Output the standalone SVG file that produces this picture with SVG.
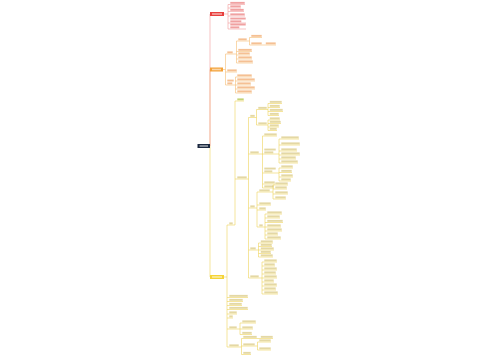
<svg xmlns="http://www.w3.org/2000/svg" width="500" height="360" viewBox="0 0 500 360">
<style>
path{fill:none;stroke-width:.6}
.cr,.r path{stroke:#f29b9b}
.co,.o path{stroke:#f5bd73}
.cy,.y path{stroke:#eed45a}
.r rect{fill:#e35454;opacity:.55}
.o rect{fill:#ec8c3a;opacity:.55}
.y rect{fill:#c9b24a;opacity:.5}
.g rect{fill:#a9bf3a;opacity:.7}
.bw{fill:#fff;opacity:.55}
</style>
<rect width="500" height="360" fill="#fff"/>
<g id="connectors">
<path class="cy" d="M210 146V277"/>
<path class="co" d="M210 146V69.5"/>
<path class="cr" d="M210 146V14"/>
<path class="cr" d="M224 14H228M228 4.5V29"/>
<path class="co" d="M223 69.5H225.5M225.5 54V85M233 54H236.5M236.5 41V63M247 41H249.5M249.5 37.5V45M262 45H264M234 85H235.5M235.5 77V93"/>
<path class="cy" d="M224 277H227M227 225V347M233 225H235M235 101V225M247 179H248.5M248.5 117.5V278M255 117.5H256.5M256.5 109.5V125M267 109.5H268M268 103.5V115.5M267 125H268M268 120V130.5M259 154H262.5M262.5 136V188M276 154H279M279 139V163M276 173H279M279 168V181M255 208H257M257 192V227M270 192H273M273 185V199M263 227H265M265 214V239M256 250H258.5M258.5 243V257M259 278H262M262 262V294M237 329H240M240 323V334.5M239 347H241.5M241.5 338.5V354.5M257 338.5H259M255 346H257.5M257.5 342V350"/>
</g>
<g id="root"><rect x="197.5" y="144" width="12.5" height="4" fill="#1c2940"/><rect class="bw" x="199.5" y="145.2" width="8.5" height="1.6"/></g>
<g id="b-red"><rect x="210" y="12" width="14" height="4" fill="#e8403e"/><rect class="bw" x="212" y="13.2" width="10" height="1.6"/></g>
<g id="b-orange"><rect x="210" y="67.5" width="13" height="4" fill="#f3a23a"/><rect class="bw" x="212" y="68.7" width="9" height="1.6"/></g>
<g id="b-yellow"><rect x="210" y="275" width="14" height="4" fill="#f5d436"/><rect class="bw" x="212" y="276.2" width="10" height="1.6"/></g>
<g id="r1" class="r"><rect x="230.3" y="1.9" width="14.4" height="1.9"/><path d="M228 4.5H245"/></g>
<g id="r2" class="r"><rect x="230.3" y="5.4" width="10.4" height="1.9"/><path d="M228 8H241"/></g>
<g id="r3" class="r"><rect x="230.3" y="8.9" width="13.4" height="1.9"/><path d="M228 11.5H244"/></g>
<g id="r4" class="r"><rect x="230.3" y="13.4" width="14.4" height="1.9"/><path d="M228 16H245"/></g>
<g id="r5" class="r"><rect x="230.3" y="17.6" width="15.4" height="1.9"/><rect x="230.3" y="20.4" width="11" height="1.9"/><path d="M228 23H246"/></g>
<g id="r6" class="r"><rect x="230.3" y="23.6" width="15.4" height="1.9"/><rect x="230.3" y="26.4" width="9" height="1.9"/><path d="M228 29H246"/></g>
<g id="o1" class="o"><rect x="227.3" y="51.4" width="5.4" height="1.9"/><path d="M225.5 54H233"/></g>
<g id="o2" class="o"><rect x="227.3" y="69.4" width="9.4" height="1.9"/><path d="M225.5 72H237"/></g>
<g id="o3" class="o"><rect x="227.3" y="79.6" width="6.4" height="1.9"/><rect x="227.3" y="82.4" width="5" height="1.9"/><path d="M225.5 85H234"/></g>
<g id="o1a" class="o"><rect x="238.3" y="38.4" width="8.4" height="1.9"/><path d="M236.5 41H247"/></g>
<g id="o1b" class="o"><rect x="238.3" y="48.9" width="13.4" height="1.9"/><path d="M236.5 51.5H252"/></g>
<g id="o1c" class="o"><rect x="238.3" y="52.4" width="11.4" height="1.9"/><path d="M236.5 55H250"/></g>
<g id="o1d" class="o"><rect x="238.3" y="56.4" width="13.4" height="1.9"/><path d="M236.5 59H252"/></g>
<g id="o1e" class="o"><rect x="238.3" y="60.4" width="14.4" height="1.9"/><path d="M236.5 63H253"/></g>
<g id="o1a1" class="o"><rect x="251.3" y="34.9" width="10.4" height="1.9"/><path d="M249.5 37.5H262"/></g>
<g id="o1a2" class="o"><rect x="251.3" y="42.4" width="10.4" height="1.9"/><path d="M249.5 45H262"/></g>
<g id="o1a2a" class="o"><rect x="265.8" y="42.4" width="9.9" height="1.9"/><path d="M264 45H276"/></g>
<g id="o3a" class="o"><rect x="237.3" y="74.4" width="14.4" height="1.9"/><path d="M235.5 77H252"/></g>
<g id="o3b" class="o"><rect x="237.3" y="78.4" width="17.4" height="1.9"/><path d="M235.5 81H255"/></g>
<g id="o3c" class="o"><rect x="237.3" y="82.4" width="13.4" height="1.9"/><path d="M235.5 85H251"/></g>
<g id="o3d" class="o"><rect x="237.3" y="86.4" width="17.4" height="1.9"/><path d="M235.5 89H255"/></g>
<g id="o3e" class="o"><rect x="237.3" y="90.4" width="14.4" height="1.9"/><path d="M235.5 93H252"/></g>
<g id="ya" class="y"><rect x="229.3" y="222.4" width="3.4" height="1.9"/><path d="M227 225H233"/></g>
<g id="yl1" class="y"><rect x="229.3" y="294.9" width="18.4" height="1.9"/><path d="M227 297.5H248"/></g>
<g id="yl2" class="y"><rect x="229.3" y="298.9" width="13.4" height="1.9"/><path d="M227 301.5H243"/></g>
<g id="yl3" class="y"><rect x="229.3" y="302.9" width="12.4" height="1.9"/><path d="M227 305.5H242"/></g>
<g id="yl4" class="y"><rect x="229.3" y="306.9" width="18.4" height="1.9"/><path d="M227 309.5H248"/></g>
<g id="yl5" class="y"><rect x="229.3" y="311.4" width="7.4" height="1.9"/><path d="M227 314H237"/></g>
<g id="yl6" class="y"><rect x="229.3" y="315.4" width="3.4" height="1.9"/><path d="M227 318H233"/></g>
<g id="yb" class="y"><rect x="229.3" y="326.4" width="7.4" height="1.9"/><path d="M227 329H237"/></g>
<g id="yc" class="y"><rect x="229.3" y="344.4" width="9.4" height="1.9"/><path d="M227 347H239"/></g>
<g id="ya1" class="y g"><rect x="237.3" y="98.4" width="6.4" height="1.9"/><path d="M235 101H244"/></g>
<g id="ya2" class="y"><rect x="237.3" y="176.4" width="9.4" height="1.9"/><path d="M235 179H247"/></g>
<g id="p1" class="y"><rect x="250.3" y="114.9" width="4.4" height="1.9"/><path d="M248.5 117.5H255"/></g>
<g id="p2" class="y"><rect x="250.3" y="151.4" width="8.4" height="1.9"/><path d="M248.5 154H259"/></g>
<g id="p3" class="y"><rect x="250.3" y="205.4" width="4.4" height="1.9"/><path d="M248.5 208H255"/></g>
<g id="p4" class="y"><rect x="250.3" y="247.4" width="5.4" height="1.9"/><path d="M248.5 250H256"/></g>
<g id="p5" class="y"><rect x="250.3" y="275.4" width="8.4" height="1.9"/><path d="M248.5 278H259"/></g>
<g id="p1a" class="y"><rect x="258.3" y="106.9" width="8.4" height="1.9"/><path d="M256.5 109.5H267"/></g>
<g id="p1b" class="y"><rect x="258.3" y="122.4" width="8.4" height="1.9"/><path d="M256.5 125H267"/></g>
<g id="p1a1" class="y"><rect x="269.8" y="100.9" width="11.9" height="1.9"/><path d="M268 103.5H282"/></g>
<g id="p1a2" class="y"><rect x="269.8" y="104.9" width="9.9" height="1.9"/><path d="M268 107.5H280"/></g>
<g id="p1a3" class="y"><rect x="269.8" y="108.9" width="12.9" height="1.9"/><path d="M268 111.5H283"/></g>
<g id="p1a4" class="y"><rect x="269.8" y="112.9" width="8.9" height="1.9"/><path d="M268 115.5H279"/></g>
<g id="p1b1" class="y"><rect x="269.8" y="117.4" width="9.9" height="1.9"/><path d="M268 120H280"/></g>
<g id="p1b2" class="y"><rect x="269.8" y="120.9" width="10.9" height="1.9"/><path d="M268 123.5H281"/></g>
<g id="p1b3" class="y"><rect x="269.8" y="124.4" width="8.9" height="1.9"/><path d="M268 127H279"/></g>
<g id="p1b4" class="y"><rect x="269.8" y="127.9" width="6.9" height="1.9"/><path d="M268 130.5H277"/></g>
<g id="p2a" class="y"><rect x="264.3" y="133.4" width="12.4" height="1.9"/><path d="M262.5 136H277"/></g>
<g id="p2b" class="y"><rect x="264.3" y="148.6" width="11.4" height="1.9"/><rect x="264.3" y="151.4" width="9" height="1.9"/><path d="M262.5 154H276"/></g>
<g id="p2c" class="y"><rect x="264.3" y="167.6" width="11.4" height="1.9"/><rect x="264.3" y="170.4" width="8" height="1.9"/><path d="M262.5 173H276"/></g>
<g id="p2d" class="y"><rect x="264.3" y="181.4" width="10.4" height="1.9"/><path d="M262.5 184H275"/></g>
<g id="p2e" class="y"><rect x="264.3" y="185.4" width="9.4" height="1.9"/><path d="M262.5 188H274"/></g>
<g id="p2b1" class="y"><rect x="281.3" y="136.4" width="17.4" height="1.9"/><path d="M279 139H299"/></g>
<g id="p2b2" class="y"><rect x="281.3" y="142.4" width="18.4" height="1.9"/><path d="M279 145H300"/></g>
<g id="p2b3" class="y"><rect x="281.3" y="148.4" width="15.4" height="1.9"/><path d="M279 151H297"/></g>
<g id="p2b4" class="y"><rect x="281.3" y="152.4" width="18.4" height="1.9"/><path d="M279 155H300"/></g>
<g id="p2b5" class="y"><rect x="281.3" y="156.4" width="14.4" height="1.9"/><path d="M279 159H296"/></g>
<g id="p2b6" class="y"><rect x="281.3" y="160.4" width="16.4" height="1.9"/><path d="M279 163H298"/></g>
<g id="p2c1" class="y"><rect x="281.3" y="165.4" width="11.4" height="1.9"/><path d="M279 168H293"/></g>
<g id="p2c2" class="y"><rect x="281.3" y="169.9" width="10.4" height="1.9"/><path d="M279 172.5H292"/></g>
<g id="p2c3" class="y"><rect x="281.3" y="174.4" width="11.4" height="1.9"/><path d="M279 177H293"/></g>
<g id="p2c4" class="y"><rect x="281.3" y="178.4" width="9.4" height="1.9"/><path d="M279 181H291"/></g>
<g id="p3a" class="y"><rect x="259.3" y="189.4" width="10.4" height="1.9"/><path d="M257 192H270"/></g>
<g id="p3b" class="y"><rect x="259.3" y="202.4" width="11.4" height="1.9"/><path d="M257 205H271"/></g>
<g id="p3c" class="y"><rect x="259.3" y="207.4" width="6.4" height="1.9"/><path d="M257 210H266"/></g>
<g id="p3d" class="y"><rect x="259.3" y="224.4" width="3.4" height="1.9"/><path d="M257 227H263"/></g>
<g id="p3a1" class="y"><rect x="275.3" y="182.4" width="12.4" height="1.9"/><path d="M273 185H288"/></g>
<g id="p3a2" class="y"><rect x="275.3" y="186.4" width="11.4" height="1.9"/><path d="M273 189H287"/></g>
<g id="p3a3" class="y"><rect x="275.3" y="191.4" width="12.4" height="1.9"/><path d="M273 194H288"/></g>
<g id="p3a4" class="y"><rect x="275.3" y="196.4" width="10.4" height="1.9"/><path d="M273 199H286"/></g>
<g id="p3d1" class="y"><rect x="267.3" y="211.4" width="14.4" height="1.9"/><path d="M265 214H282"/></g>
<g id="p3d2" class="y"><rect x="267.3" y="215.4" width="12.4" height="1.9"/><path d="M265 218H280"/></g>
<g id="p3d3" class="y"><rect x="267.3" y="219.9" width="15.4" height="1.9"/><path d="M265 222.5H283"/></g>
<g id="p3d4" class="y"><rect x="267.3" y="224.4" width="13.4" height="1.9"/><path d="M265 227H281"/></g>
<g id="p3d5" class="y"><rect x="267.3" y="228.4" width="14.4" height="1.9"/><path d="M265 231H282"/></g>
<g id="p3d6" class="y"><rect x="267.3" y="232.4" width="10.4" height="1.9"/><path d="M265 235H278"/></g>
<g id="p3d7" class="y"><rect x="267.3" y="236.4" width="13.4" height="1.9"/><path d="M265 239H281"/></g>
<g id="p41" class="y"><rect x="260.8" y="240.4" width="11.9" height="1.9"/><path d="M258.5 243H273"/></g>
<g id="p42" class="y"><rect x="260.8" y="243.9" width="10.9" height="1.9"/><path d="M258.5 246.5H272"/></g>
<g id="p43" class="y"><rect x="260.8" y="247.4" width="12.9" height="1.9"/><path d="M258.5 250H274"/></g>
<g id="p44" class="y"><rect x="260.8" y="250.9" width="9.9" height="1.9"/><path d="M258.5 253.5H271"/></g>
<g id="p45" class="y"><rect x="260.8" y="254.4" width="11.9" height="1.9"/><path d="M258.5 257H273"/></g>
<g id="p51" class="y"><rect x="264.3" y="259.4" width="12.4" height="1.9"/><path d="M262 262H277"/></g>
<g id="p52" class="y"><rect x="264.3" y="263.4" width="10.4" height="1.9"/><path d="M262 266H275"/></g>
<g id="p53" class="y"><rect x="264.3" y="267.4" width="12.4" height="1.9"/><path d="M262 270H277"/></g>
<g id="p54" class="y"><rect x="264.3" y="271.4" width="11.4" height="1.9"/><path d="M262 274H276"/></g>
<g id="p55" class="y"><rect x="264.3" y="275.4" width="12.4" height="1.9"/><path d="M262 278H277"/></g>
<g id="p56" class="y"><rect x="264.3" y="279.4" width="9.4" height="1.9"/><path d="M262 282H274"/></g>
<g id="p57" class="y"><rect x="264.3" y="283.4" width="12.4" height="1.9"/><path d="M262 286H277"/></g>
<g id="p58" class="y"><rect x="264.3" y="287.4" width="11.4" height="1.9"/><path d="M262 290H276"/></g>
<g id="p59" class="y"><rect x="264.3" y="291.4" width="13.4" height="1.9"/><path d="M262 294H278"/></g>
<g id="yb1" class="y"><rect x="242.3" y="320.4" width="13.4" height="1.9"/><path d="M240 323H256"/></g>
<g id="yb2" class="y"><rect x="242.3" y="326.4" width="10.4" height="1.9"/><path d="M240 329H253"/></g>
<g id="yb3" class="y"><rect x="242.3" y="331.9" width="9.4" height="1.9"/><path d="M240 334.5H252"/></g>
<g id="yc1" class="y"><rect x="243.3" y="335.9" width="13.4" height="1.9"/><path d="M241.5 338.5H257"/></g>
<g id="yc1a" class="y"><rect x="260.8" y="335.9" width="11.9" height="1.9"/><path d="M259 338.5H273"/></g>
<g id="yc2" class="y"><rect x="243.3" y="343.4" width="11.4" height="1.9"/><path d="M241.5 346H255"/></g>
<g id="yc2a" class="y"><rect x="259.3" y="339.4" width="11.4" height="1.9"/><path d="M257.5 342H271"/></g>
<g id="yc2b" class="y"><rect x="259.3" y="347.4" width="11.4" height="1.9"/><path d="M257.5 350H271"/></g>
<g id="yc3" class="y"><rect x="243.3" y="351.9" width="7.4" height="1.9"/><path d="M241.5 354.5H251"/></g>
</svg>
